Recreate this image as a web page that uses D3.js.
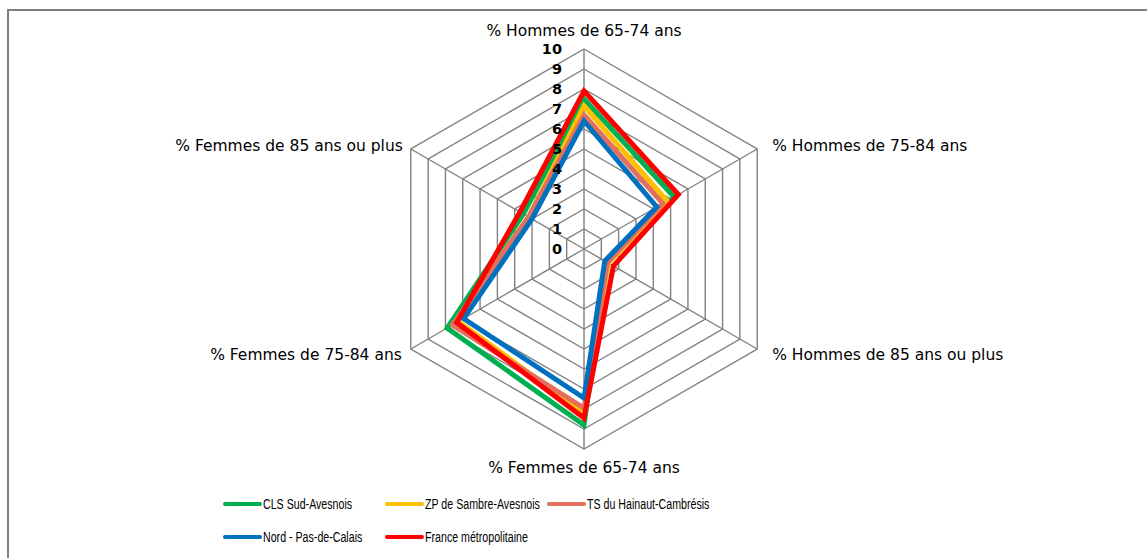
<!DOCTYPE html>
<html>
<head>
<meta charset="utf-8">
<script src="https://cdn.jsdelivr.net/npm/d3@7"></script>
<style>
  html, body { margin: 0; padding: 0; background: #fff; }
  svg { display: block; }
</style>
</head>
<body>
<svg id="chart" width="1147" height="558"></svg>
<script>
// Axes of the radar (clockwise from the top)
const categories = [
  "% Hommes de 65-74 ans",
  "% Hommes de 75-84 ans",
  "% Hommes de 85 ans ou plus",
  "% Femmes de 65-74 ans",
  "% Femmes de 75-84 ans",
  "% Femmes de 85 ans ou plus"
];

const seriesNames = [
  "CLS Sud-Avesnois",
  "ZP de Sambre-Avesnois",
  "TS du Hainaut-Cambrésis",
  "Nord - Pas-de-Calais",
  "France métropolitaine"
];

const clsSudAvesnois       = [7.5, 5.2, 1.3, 8.8, 7.9, 3.5];
const zpSambreAvesnois     = [7.15, 4.8, 1.4, 8.2, 7.25, 3.2];
const tsHainautCambresis   = [6.7, 4.55, 1.35, 7.95, 7.6, 3.2];
const nordPasDeCalais      = [6.4, 4.2, 1.2, 7.45, 6.95, 3.0];
const franceMetropolitaine = [7.9, 5.45, 1.7, 8.45, 7.35, 3.7];

const seriesValues = [clsSudAvesnois, zpSambreAvesnois, tsHainautCambresis, nordPasDeCalais, franceMetropolitaine];
const seriesColors = ["#00B050", "#FFC000", "#E2705C", "#0070C0", "#FF0000"];

const tickLabels = ["0", "1", "2", "3", "4", "5", "6", "7", "8", "9", "10"];

const svg = d3.select("#chart");

// outer frame
svg.append("rect")
  .attr("x", 8).attr("y", 10)
  .attr("width", 1160).attr("height", 570)
  .attr("fill", "none")
  .attr("stroke", "#7f7f7f")
  .attr("stroke-width", 2);

const cx = 584, cy = 249;
const r = d3.scaleLinear().domain([0, 10]).range([0, 200]);
const angle = d3.scaleLinear().domain([0, categories.length]).range([0, 2 * Math.PI]);

const g = svg.append("g").attr("transform", `translate(${cx},${cy})`);

const pt = (i, v) => [Math.sin(angle(i)) * r(v), -Math.cos(angle(i)) * r(v)];

// grid hexagons
const levels = d3.range(1, 11);
g.selectAll("path.grid")
  .data(levels)
  .join("path")
  .attr("class", "grid")
  .attr("d", lv => d3.line()(categories.map((c, i) => pt(i, lv))) + "Z")
  .attr("fill", "none")
  .attr("stroke", "#808080")
  .attr("stroke-width", 1.4);

// spokes
g.selectAll("line.spoke")
  .data(categories)
  .join("line")
  .attr("class", "spoke")
  .attr("x1", 0).attr("y1", 0)
  .attr("x2", (c, i) => pt(i, 10)[0])
  .attr("y2", (c, i) => pt(i, 10)[1])
  .attr("stroke", "#808080")
  .attr("stroke-width", 1.4);

// series polygons
const radial = d3.lineRadial()
  .angle((d, i) => angle(i))
  .radius(d => r(d))
  .curve(d3.curveLinearClosed);

g.selectAll("path.series")
  .data(seriesValues)
  .join("path")
  .attr("class", "series")
  .attr("d", d => radial(d))
  .attr("fill", "none")
  .attr("stroke", (d, i) => seriesColors[i])
  .attr("stroke-width", 5)
  .attr("stroke-linejoin", "miter");

// radial tick labels
g.selectAll("text.tick")
  .data(tickLabels)
  .join("text")
  .attr("class", "tick")
  .attr("x", -22)
  .attr("y", (t, i) => -r(i))
  .attr("dy", "0.36em")
  .attr("text-anchor", "end")
  .attr("font-family", "'DejaVu Sans', Verdana, sans-serif")
  .attr("font-weight", "bold")
  .attr("font-size", 14.5)
  .attr("fill", "#000")
  .text(t => t);

// category labels
const labelPos = [
  { dx: 0, dy: -19, anchor: "middle" },
  { dx: 15, dy: -4, anchor: "start" },
  { dx: 15, dy: 5, anchor: "start" },
  { dx: 0, dy: 18, anchor: "middle" },
  { dx: -9, dy: 5, anchor: "end" },
  { dx: -8, dy: -4, anchor: "end" }
];
g.selectAll("text.cat")
  .data(categories)
  .join("text")
  .attr("class", "cat")
  .attr("x", (c, i) => pt(i, 10)[0] + labelPos[i].dx)
  .attr("y", (c, i) => pt(i, 10)[1] + labelPos[i].dy)
  .attr("dy", "0.36em")
  .attr("text-anchor", (c, i) => labelPos[i].anchor)
  .attr("font-family", "'DejaVu Sans', Verdana, sans-serif")
  .attr("font-size", 15.5)
  .attr("fill", "#000")
  .text(c => c);

// legend
const legendCols = [225, 387, 549];
const legendRows = [504, 537];
const legend = svg.append("g");
seriesNames.forEach((name, i) => {
  const x = legendCols[i % 3], y = legendRows[Math.floor(i / 3)];
  legend.append("line")
    .attr("x1", x).attr("x2", x + 35)
    .attr("y1", y).attr("y2", y)
    .attr("stroke", seriesColors[i])
    .attr("stroke-width", 4)
    .attr("stroke-linecap", "round");
  const t = legend.append("text")
    .attr("x", x + 38)
    .attr("y", y)
    .attr("dy", "0.35em")
    .attr("font-family", "'Liberation Sans', Arial, sans-serif")
    .attr("font-size", 14)
    .attr("fill", "#000")
    .text(name);
  // condensed legend lettering
  const w = t.node().getComputedTextLength();
  t.attr("textLength", w * 0.76).attr("lengthAdjust", "spacingAndGlyphs");
});
</script>
</body>
</html>
